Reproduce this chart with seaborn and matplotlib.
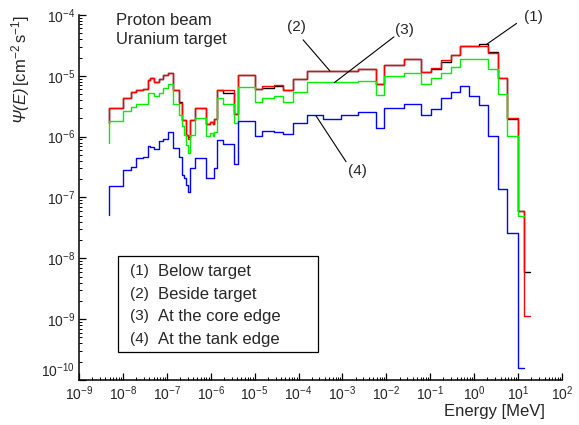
import numpy as np
import pandas as pd
import matplotlib
matplotlib.use("Agg")
import matplotlib.pyplot as plt
import seaborn as sns
from matplotlib.patches import Rectangle
from matplotlib.ticker import LogLocator, NullFormatter

# Energy group edges [MeV]
energy_edges = [
    4.9e-9, 1.02e-8, 1.53e-8, 2.0e-8, 2.9e-8, 3.8e-8, 4.2e-8, 5.1e-8, 6.8e-8, 8.3e-8,
    1.05e-7, 1.4e-7, 1.9e-7, 2.25e-7, 2.5e-7, 2.8e-7, 3.1e-7, 3.4e-7, 4.3e-7, 7.8e-7,
    9.6e-7, 1.1e-6, 1.18e-6, 1.38e-6, 1.95e-6, 3.45e-6, 4.1e-6, 1.02e-5, 1.5e-5, 2.8e-5,
    4.5e-5, 7.6e-5, 1.55e-4, 3.6e-4, 9.3e-4, 2.3e-3, 5.8e-3, 8.9e-3, 2.5e-2, 6.3e-2,
    0.102, 0.174, 0.29, 0.48, 0.78, 1.3, 2.1, 3.5, 5.6, 10.2,
    13.8, 18.6,
]

# Flux per group [cm^-2 s^-1]; first entry is the starting level of the step line
flux_below = [
    1.7e-6,
    3.0e-6, 4.4e-6, 5.4e-6, 5.9e-6, 6.1e-6, 8.5e-6, 9.1e-6, 7.8e-6, 8.9e-6, 1.03e-5,
    1.13e-5, 5.8e-6, 3.7e-6, 1.9e-6, 1.87e-6, 1.06e-6, 9.8e-7, 1.87e-6, 3.0e-6, 1.6e-6,
    1.76e-6, 1.6e-6, 1.95e-6, 5.8e-6, 5.3e-6, 2.4e-6, 1.03e-5, 6.0e-6, 6.4e-6, 6.8e-6,
    5.8e-6, 8.9e-6, 1.2e-5, 1.2e-5, 1.2e-5, 1.28e-5, 7.3e-6, 1.5e-5, 1.87e-5, 1.14e-5,
    1.28e-5, 1.7e-5, 2.2e-5, 3.1e-5, 3.1e-5, 3.3e-5, 2.5e-5, 9.1e-6, 1.97e-6, 6.0e-8,
    6.0e-9,
]
flux_beside = [
    1.7e-6,
    3.0e-6, 4.4e-6, 5.4e-6, 5.9e-6, 6.1e-6, 8.5e-6, 9.1e-6, 7.8e-6, 8.9e-6, 1.03e-5,
    1.13e-5, 5.8e-6, 3.6e-6, 1.9e-6, 1.87e-6, 1.06e-6, 9.0e-7, 1.87e-6, 3.0e-6, 1.6e-6,
    1.76e-6, 1.6e-6, 1.95e-6, 5.8e-6, 5.8e-6, 2.4e-6, 1.03e-5, 6.0e-6, 6.8e-6, 7.2e-6,
    5.8e-6, 8.9e-6, 1.2e-5, 1.2e-5, 1.2e-5, 1.28e-5, 7.3e-6, 1.5e-5, 1.87e-5, 1.14e-5,
    1.36e-5, 1.82e-5, 2.2e-5, 3.1e-5, 3.1e-5, 3.1e-5, 2.4e-5, 9.1e-6, 2.0e-6, 6.0e-8,
    1.13e-9,
]
flux_core = [
    7.8e-7,
    1.8e-6, 2.6e-6, 3.1e-6, 3.5e-6, 3.5e-6, 5.2e-6, 5.2e-6, 4.7e-6, 5.3e-6, 6.2e-6,
    7.3e-6, 3.5e-6, 2.3e-6, 1.5e-6, 1.06e-6, 7.3e-7, 5.3e-7, 1.06e-6, 2.0e-6, 1.02e-6,
    1.13e-6, 1.02e-6, 1.2e-6, 4.3e-6, 3.5e-6, 1.7e-6, 6.6e-6, 3.75e-6, 4.3e-6, 4.7e-6,
    3.75e-6, 5.5e-6, 7.8e-6, 7.8e-6, 7.8e-6, 8.3e-6, 4.8e-6, 9.9e-6, 1.12e-5, 7.3e-6,
    9.1e-6, 1.12e-5, 1.41e-5, 1.87e-5, 1.87e-5, 1.87e-5, 1.28e-5, 5.0e-6, 1.02e-6, 4.9e-8,
    np.nan,
]
flux_tank = [
    5.1e-8,
    1.56e-7, 2.8e-7, 3.2e-7, 4.4e-7, 4.7e-7, 7.1e-7, 6.7e-7, 6.2e-7, 8.5e-7, 9.2e-7,
    1.19e-6, 6.6e-7, 4.6e-7, 2.3e-7, 2.1e-7, 1.6e-7, 1.24e-7, 3.0e-7, 4.4e-7, 2.1e-7,
    2.1e-7, 2.1e-7, 3.0e-7, 8.8e-7, 7.5e-7, 3.5e-7, 1.8e-6, 1.02e-6, 1.25e-6, 1.2e-6,
    1.1e-6, 1.69e-6, 2.26e-6, 1.95e-6, 2.26e-6, 2.5e-6, 1.4e-6, 3.0e-6, 3.5e-6, 2.26e-6,
    2.9e-6, 4.4e-6, 5.5e-6, 6.8e-6, 4.7e-6, 3.3e-6, 1.02e-6, 1.36e-7, 2.6e-8, 1.6e-10,
    np.nan,
]

series_names = ["Below target", "Beside target", "At the core edge", "At the tank edge"]
series_colors = ["black", "#ff0000", "#00ee00", "#0000ff"]

x_decades = 10.0 ** np.arange(-9, 3)
y_decades = 10.0 ** np.arange(-10, -3)

sns.set_theme(style="ticks")
plt.rcParams["font.family"] = ["Liberation Sans", "DejaVu Sans"]
plt.rcParams["mathtext.fontset"] = "custom"
plt.rcParams["mathtext.rm"] = "Liberation Sans:italic"
plt.rcParams["mathtext.it"] = "Liberation Sans:italic"
plt.rcParams["mathtext.sf"] = "Liberation Sans"
plt.rcParams["mathtext.bf"] = "Liberation Sans:bold"

frames = []
for name, flux in zip(series_names, [flux_below, flux_beside, flux_core, flux_tank]):
    frames.append(pd.DataFrame({"energy": energy_edges, "flux": flux, "series": name}))
df = pd.concat(frames, ignore_index=True)

fig = plt.figure(figsize=(5.79, 4.25), dpi=100)
ax = fig.add_axes([0.1364, 0.1059, 0.8342, 0.8588])

sns.lineplot(
    data=df, x="energy", y="flux", hue="series", hue_order=series_names,
    palette=series_colors, estimator=None, sort=False, drawstyle="steps-pre",
    linewidth=1.0, legend=False, ax=ax,
)

ax.set_xscale("log")
ax.set_yscale("log")
ax.set_xticks(x_decades)
ax.set_yticks(y_decades)
ax.set_xlim(1e-9, 1e2)
ax.set_ylim(1e-10, 1e-4)
sns.despine(ax=ax)
for side in ["left", "bottom"]:
    ax.spines[side].set_linewidth(1.1)
    ax.spines[side].set_color("black")

for axis in [ax.xaxis, ax.yaxis]:
    axis.set_minor_locator(LogLocator(base=10, subs=np.arange(2, 10), numticks=300))
    axis.set_minor_formatter(NullFormatter())
ax.tick_params(which="major", direction="in", length=5, width=0.9, labelsize=10,
               pad=3, color="black")
ax.tick_params(which="minor", direction="in", length=2.5, width=0.7, color="black")

ax.set_xlabel("Energy [MeV]", fontsize=12, ha="right")
ax.xaxis.set_label_coords(0.965, -0.065)
ax.set_ylabel(r"$\Psi(E)\,\mathsf{[cm^{-2}\,s^{-1}]}$", fontsize=12)
ax.yaxis.set_label_coords(-0.098, 0.85)

ax.text(0.077, 0.986, "Proton beam", transform=ax.transAxes, fontsize=12, va="center")
ax.text(0.077, 0.932, "Uranium target", transform=ax.transAxes, fontsize=12, va="center")

# callouts: (label, point on curve, line end in axes fraction, label position)
callouts = [
    ("(1)", (1.93, 3.3e-5), (0.906, 0.977), (0.940, 0.995)),
    ("(2)", (5.2e-4, 1.2e-5), (0.464, 0.932), (0.451, 0.968)),
    ("(3)", (6.5e-4, 7.7e-6), (0.652, 0.940), (0.673, 0.959)),
    ("(4)", (2.5e-4, 2.2e-6), (0.553, 0.598), (0.576, 0.573)),
]
for lab, xy, lend, lpos in callouts:
    ax.annotate("", xy=xy, xycoords="data", xytext=lend, textcoords="axes fraction",
                arrowprops=dict(arrowstyle="-", color="black", lw=0.8,
                                shrinkA=0, shrinkB=0))
    ax.text(lpos[0], lpos[1], lab, transform=ax.transAxes, fontsize=11,
            ha="center", va="center")

# legend box
ax.add_patch(Rectangle((0.0807, 0.0767), 0.414, 0.263, transform=ax.transAxes,
                       facecolor="white", edgecolor="black", lw=0.9, zorder=5))
rows_y = [0.2973, 0.2356, 0.1740, 0.1123]
for i, (name, ry) in enumerate(zip(series_names, rows_y)):
    ax.text(0.126, ry, f"({i + 1})", transform=ax.transAxes, fontsize=11,
            ha="center", va="center", zorder=6)
    ax.text(0.1636, ry, name, transform=ax.transAxes, fontsize=12,
            ha="left", va="center", zorder=6)

# lift the lowest y tick label so it clears the first x tick label
fig.canvas.draw()
for tick in ax.yaxis.get_major_ticks():
    if np.isclose(tick.get_loc(), 1e-10, rtol=1e-3, atol=0):
        tick.label1.set_va("bottom")

fig.savefig("out.png", dpi=100)
